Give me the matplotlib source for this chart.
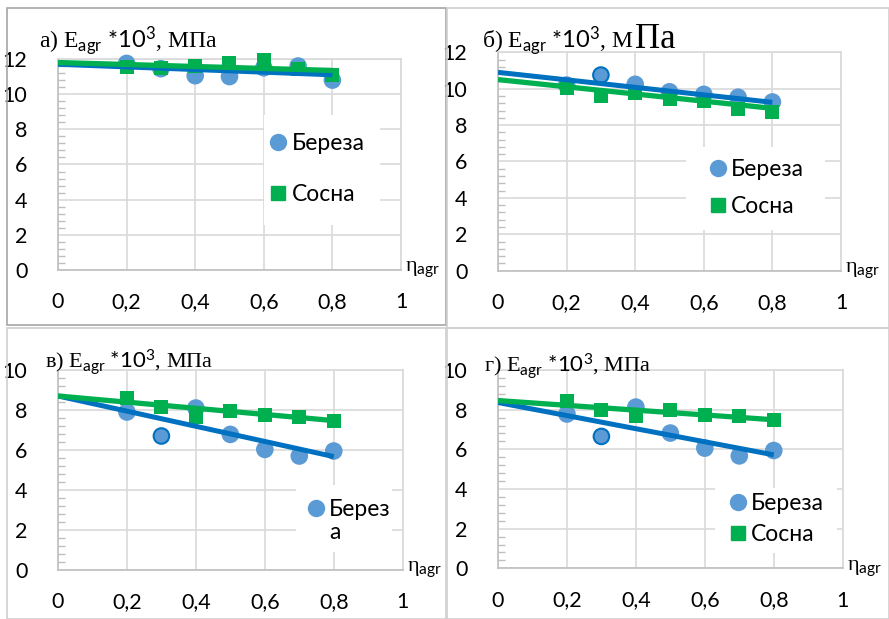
import numpy as np
import matplotlib
matplotlib.use("Agg")
import matplotlib.pyplot as plt
from matplotlib.patches import Rectangle
from matplotlib.lines import Line2D
from matplotlib.ticker import MultipleLocator, FuncFormatter

plt.rcParams['font.family'] = ['Lato', 'DejaVu Sans']
plt.rcParams['mathtext.fontset'] = 'custom'
plt.rcParams['mathtext.sf'] = 'Lato'
plt.rcParams['mathtext.rm'] = 'Liberation Serif'

# data
eta = [0.2, 0.3, 0.4, 0.5, 0.6, 0.7, 0.8]
trend_x = [0.0, 0.8]

# а)
bereza_a = [11.75, 11.45, 11.05, 11.0, 11.5, 11.6, 10.8]
sosna_a = [11.55, 11.5, 11.6, 11.8, 11.95, 11.45, 11.1]
bereza_a_trend = [11.7, 11.1]
sosna_a_trend = [11.8, 11.35]

# б)
bereza_b = [10.2, 10.75, 10.24, 9.83, 9.69, 9.53, 9.27]
sosna_b = [10.05, 9.6, 9.75, 9.45, 9.35, 8.9, 8.7]
bereza_b_trend = [10.9, 9.25]
sosna_b_trend = [10.5, 8.92]

# в)
bereza_v = [7.9, 6.7, 8.1, 6.78, 6.03, 5.7, 5.95]
sosna_v = [8.6, 8.13, 7.67, 7.97, 7.73, 7.63, 7.47]
bereza_v_trend = [8.7, 5.67]
sosna_v_trend = [8.7, 7.47]

# г)
bereza_g = [7.78, 6.65, 8.13, 6.82, 6.06, 5.67, 5.94]
sosna_g = [8.45, 8.0, 7.66, 7.96, 7.75, 7.66, 7.49]
bereza_g_trend = [8.36, 5.72]
sosna_g_trend = [8.46, 7.49]

x_ticks = [0, 0.2, 0.4, 0.6, 0.8, 1]
series_names = ['Береза', 'Сосна']

c_blue = '#5b9bd5'
c_blue_dark = '#0070c0'
c_green = '#00b050'
c_grid = '#d9d9d9'

fig = plt.figure(figsize=(8.89, 6.19), dpi=100)

# panel frames (figure px: x0, y0_top, x1, y1_bottom)
frames = [(7, 8, 446, 325, '#a6a6a6'), (447, 8, 889, 328, '#d0d0d0'),
          (7, 328, 446, 619, '#d0d0d0'), (447, 328, 889, 619, '#d0d0d0')]
for x0, y0, x1, y1, col in frames:
    fig.patches.append(Rectangle((x0 / 889, 1 - y1 / 619), (x1 - x0) / 889, (y1 - y0) / 619,
                                 transform=fig.transFigure, fill=False, edgecolor=col, lw=1.2))


def comma(v, pos):
    return ('%g' % v).replace('.', ',')


def make_axes(rect, ymax):
    ax = fig.add_axes(rect)
    ax.set_xlim(0, 1)
    ax.set_ylim(0, ymax)
    ax.set_xticks(x_ticks)
    ax.xaxis.set_major_formatter(FuncFormatter(comma))
    ax.yaxis.set_major_locator(MultipleLocator(2))
    ax.yaxis.set_minor_locator(MultipleLocator(0.4))
    ax.grid(True, color=c_grid, lw=1.2)
    ax.set_axisbelow(True)
    for s in ['top', 'right']:
        ax.spines[s].set_color(c_grid)
        ax.spines[s].set_linewidth(1.2)
    for s in ['left', 'bottom']:
        ax.spines[s].set_color('#bfbfbf')
        ax.spines[s].set_linewidth(1.2)
    ax.tick_params(axis='both', which='major', length=0, labelsize=15.5)
    ax.tick_params(axis='x', pad=16)
    ax.tick_params(axis='y', pad=22)
    ax.tick_params(axis='y', which='minor', direction='in', length=5, color='#bfbfbf', width=1)
    ax.tick_params(axis='x', which='minor', length=0)
    ax.text(1.012, 0.0, r'η$_{\mathsf{agr}}$', transform=ax.transAxes, family='Liberation Serif',
            fontsize=16, va='center', ha='left')
    return ax


def draw(ax, bereza, sosna, b_trend, s_trend, edge_idx=None):
    edges = [c_blue] * len(eta)
    if edge_idx is not None:
        edges[edge_idx] = c_blue_dark
    ax.scatter(eta, bereza, s=125, marker='o', color=c_blue, edgecolors=edges, linewidths=1.5,
               zorder=3, clip_on=False)
    ax.scatter(eta, sosna, s=115, marker='s', color=c_green, linewidths=0, zorder=4, clip_on=False)
    ax.plot(trend_x, b_trend, color=c_blue_dark, lw=3.6, zorder=5, solid_capstyle='butt')
    ax.plot(trend_x, s_trend, color=c_green, lw=3.8, zorder=6, solid_capstyle='butt')


def legend_box(ax, x0, y0, x1, y1, labels, handles, center, spacing):
    ax.add_patch(Rectangle((x0, y0), x1 - x0, y1 - y0, transform=ax.transAxes,
                           facecolor='white', edgecolor='none', zorder=2.5))
    ax.legend(handles, labels, loc='center left', bbox_to_anchor=center, frameon=False,
              fontsize=16.5, borderpad=0, borderaxespad=0, handlelength=0.75, handletextpad=0.2,
              labelspacing=spacing)


h_b = Line2D([], [], ls='none', marker='o', ms=11.5, color=c_blue)
h_s = Line2D([], [], ls='none', marker='s', ms=10.5, color=c_green)
h_none = Line2D([], [], ls='none')

title_a = r'а) E$_{\mathsf{agr}}$ $\mathsf{*10^{3}}$, МПа'
title_b = r'б) E$_{\mathsf{agr}}$ $\mathsf{*10^{3}}$, М'
title_v = r'в) E$_{\mathsf{agr}}$ $\mathsf{*10^{3}}$, МПа'
title_g = r'г) E$_{\mathsf{agr}}$ $\mathsf{*10^{3}}$, МПа'

# а)
ax = make_axes([58 / 889, 1 - 270 / 619, 343 / 889, 211 / 619], 12)
draw(ax, bereza_a, sosna_a, bereza_a_trend, sosna_a_trend)
legend_box(ax, 0.6, 0.213, 0.939, 0.735, series_names, [h_b, h_s], (0.617, 0.478), 1.3)
fig.text(39 / 889, 1 - 48 / 619, title_a, family='Liberation Serif', fontsize=17, va='baseline')

# б)
ax = make_axes([498 / 889, 1 - 270.7 / 619, 343 / 889, 218.4 / 619], 12)
draw(ax, bereza_b, sosna_b, bereza_b_trend, sosna_b_trend, edge_idx=1)
legend_box(ax, 0.548, 0.186, 0.953, 0.566, series_names, [h_b, h_s], (0.616, 0.377), 0.7)
t = fig.text(482 / 889, 1 - 48 / 619, title_b, family='Liberation Serif', fontsize=17, va='baseline')
pa = fig.text(0, 1 - 48 / 619, 'Па', family='Liberation Serif', fontsize=25, va='baseline')
fig.canvas.draw()
bb = t.get_window_extent()
pa.set_x((bb.x1 + 1) / 889)

# в)
ax = make_axes([58 / 889, 1 - 570 / 619, 344.7 / 889, 200 / 619], 10)
draw(ax, bereza_v, sosna_v, bereza_v_trend, sosna_v_trend, edge_idx=1)
legend_box(ax, 0.69, 0.092, 0.968, 0.425, ['Берез', 'а'], [h_b, h_none], (0.7235, 0.246), 0.1)
fig.text(45 / 889, 1 - 368 / 619, title_v, family='Liberation Serif', fontsize=16, va='baseline')

# г)
ax = make_axes([498 / 889, 1 - 568.3 / 619, 344.7 / 889, 198.3 / 619], 10)
draw(ax, bereza_g, sosna_g, bereza_g_trend, sosna_g_trend, edge_idx=1)
legend_box(ax, 0.63, 0.077, 0.983, 0.405, series_names, [h_b, h_s], (0.671, 0.249), 0.45)
fig.text(484 / 889, 1 - 372 / 619, title_g, family='Liberation Serif', fontsize=16, va='baseline')

fig.savefig('out.png', dpi=100)
